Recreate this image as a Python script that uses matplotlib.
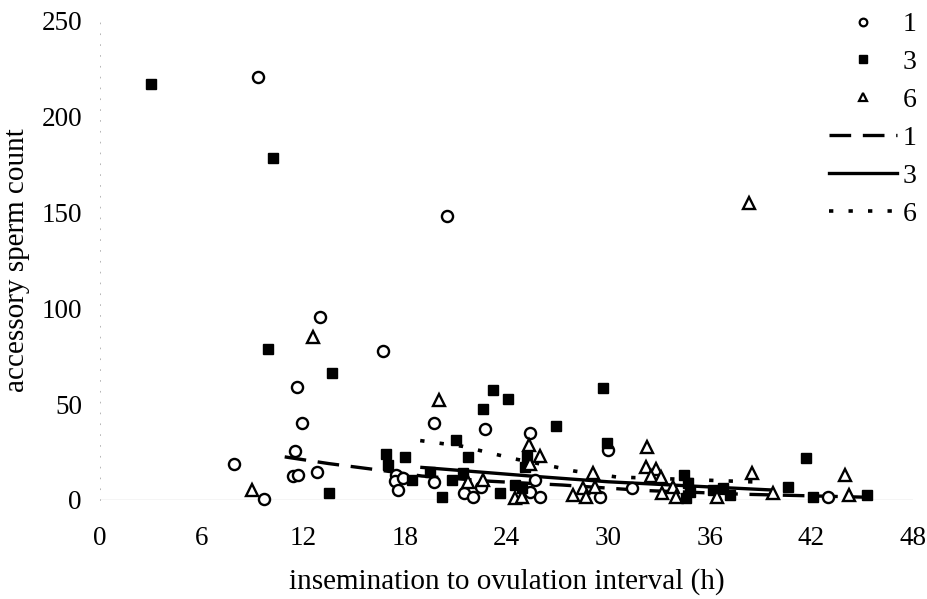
import matplotlib
matplotlib.use("Agg")
import matplotlib.pyplot as plt
from matplotlib.lines import Line2D

# group 1 (open circles)
h1 = [9.3, 20.5, 13.0, 16.7, 11.6, 11.9, 11.5, 7.9, 11.4, 11.7, 12.8, 9.7,
      17.5, 17.4, 17.6, 17.9, 19.7, 19.7, 22.7, 25.4, 30.0, 21.5, 22.0, 22.5,
      25.7, 25.4, 26.0, 29.5, 31.4, 43.0]
v1 = [221, 148, 95.5, 78, 59, 40, 25.5, 18.8, 12.5, 13, 14.6, 0.5,
      13, 10, 5, 11.5, 40, 9.4, 37, 35, 26, 3.6, 1.6, 6.8,
      10.4, 4, 1.6, 1.6, 6.3, 1.6]

# group 3 (filled squares)
h3 = [3.0, 10.2, 9.9, 13.7, 13.5, 16.9, 17.0, 18.0, 18.4, 19.5, 20.2, 20.8,
      21.0, 21.4, 21.7, 22.6, 23.2, 24.1, 23.6, 24.5, 24.9, 25.2, 25.1, 26.9,
      29.7, 29.9, 34.5, 34.7, 34.8, 34.6, 36.2, 37.2, 36.8, 40.6, 41.7, 42.1,
      45.3]
v3 = [217, 178.5, 79, 66.3, 3.6, 24, 18, 22.4, 10.4, 14.6, 1.6, 10.4,
      31.3, 14, 22.5, 47.5, 57.4, 52.7, 3.6, 8, 6, 22.5, 17, 38.6,
      58.4, 29.7, 13, 8.9, 4, 1, 5.2, 2.6, 6.3, 6.8, 21.9, 1.6,
      2.6]

# group 6 (open triangles)
h6 = [9.0, 12.6, 20.0, 25.3, 26.0, 25.4, 21.7, 22.6, 24.5, 24.9, 27.9, 28.5,
      28.7, 29.1, 29.2, 32.3, 32.2, 32.8, 32.5, 33.1, 33.2, 33.8, 34.0, 36.4,
      38.5, 38.3, 39.7, 44.0, 44.2]
v6 = [5.2, 85, 52, 28.7, 23, 19, 9.4, 10.4, 1, 1.6, 2.6, 6.3,
      1.6, 14, 6.8, 27.7, 17.2, 16.2, 12.5, 12, 3.6, 6.8, 1.6, 1.6,
      14, 155, 3.6, 13, 2.6]

# trend lines
line1_h = [10.9, 13.5, 16.4, 19.0, 23.0, 27.3, 32.0, 38.0, 45.0]
line1_v = [22.5, 19.0, 15.7, 12.5, 9.8, 7.8, 5.0, 3.0, 1.5]
line3_h = [19.0, 25.4, 30.0, 36.0, 39.7]
line3_v = [17.0, 12.5, 9.5, 6.8, 5.2]
line6_h = [18.9, 21.4, 24.5, 26.9, 28.0, 30.5, 35.6, 39.3]
line6_v = [31.0, 28.0, 21.4, 17.2, 15.1, 12.0, 10.4, 9.2]

xticks = [0, 6, 12, 18, 24, 30, 36, 42, 48]
yticks = [0, 50, 100, 150, 200, 250]

plt.rcParams['font.family'] = ['Liberation Serif', 'DejaVu Serif']

fig = plt.figure(figsize=(9.28, 5.99), dpi=100)
ax = fig.add_axes([0.1078, 0.1653, 0.8762, 0.7997])

ax.axhline(0, color='#555555', lw=0.8, zorder=1)

dash1 = (6.5, 3.5)
dot6 = (1.2, 4.2)
ax.plot(line1_h, line1_v, color='black', lw=2.4, dashes=dash1, zorder=2)
ax.plot(line3_h, line3_v, color='black', lw=2.4, zorder=2)
ax.plot(line6_h, line6_v, color='black', lw=2.6, dashes=dot6, zorder=2)

ax.plot(h1, v1, 'o', ms=8, mfc='white', mec='black', mew=1.7, ls='none', clip_on=False, zorder=3)
ax.plot(h3, v3, 's', ms=7.5, mfc='black', mec='black', mew=1, ls='none', clip_on=False, zorder=3)
ax.plot(h6, v6, '^', ms=8, mfc='white', mec='black', mew=1.7, ls='none', clip_on=False, zorder=3)

ax.set_xlim(0, 48)
ax.set_ylim(0, 250)
ax.set_xticks(xticks)
ax.set_yticks(yticks)
ax.tick_params(axis='x', length=0, pad=19, labelsize=19.5)
ax.tick_params(axis='y', length=0, pad=13, labelsize=19.5)

for s in ['top', 'right', 'bottom']:
    ax.spines[s].set_visible(False)
ax.spines['left'].set_color('#aaaaaa')
ax.spines['left'].set_linewidth(0.6)
ax.spines['left'].set_linestyle((0, (1, 12)))

ax.set_xlabel('insemination to ovulation interval (h)', fontsize=21, labelpad=12)
ax.set_ylabel('accessory sperm count', fontsize=21, labelpad=8)

handles = [
    Line2D([], [], marker='o', ls='none', ms=5.5, mfc='white', mec='black', mew=1.6),
    Line2D([], [], marker='s', ls='none', ms=5.5, mfc='black', mec='black'),
    Line2D([], [], marker='^', ls='none', ms=5.5, mfc='white', mec='black', mew=1.6),
    Line2D([], [], color='black', lw=2.4, dashes=dash1),
    Line2D([], [], color='black', lw=2.4),
    Line2D([], [], color='black', lw=2.6, dashes=dot6),
]
labels = ['1', '3', '6', '1', '3', '6']
fig.legend(handles, labels, loc='upper right', bbox_to_anchor=(1.015, 1.022),
           frameon=False, handlelength=2.45, handletextpad=0.2,
           labelspacing=0.45, fontsize=20)

fig.savefig('out.png', dpi=100)
